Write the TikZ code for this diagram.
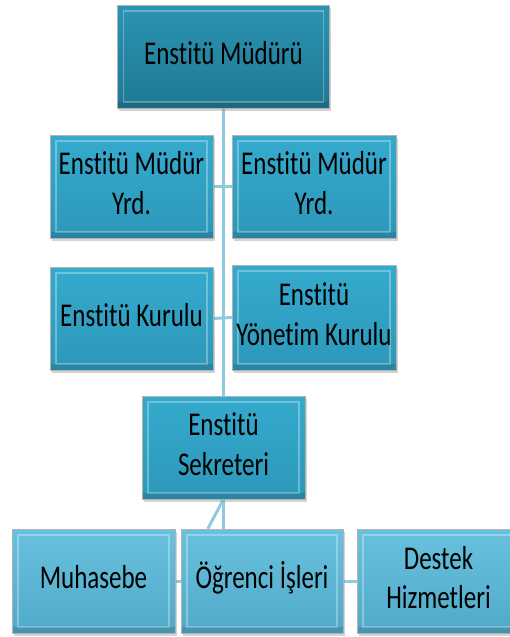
\documentclass[tikz,border=0pt]{standalone}
\usepackage{fontspec}
\setmainfont{Carlito}[Ligatures={NoCommon}]
\usepackage{graphicx}
\usetikzlibrary{shadows,backgrounds}

\definecolor{koyu}{HTML}{1F7893}
\definecolor{koyuust}{HTML}{2B94B2}
\definecolor{orta}{HTML}{2C98BA}
\definecolor{ortaust}{HTML}{35AACD}
\definecolor{acik}{HTML}{4FA9C8}
\definecolor{acikust}{HTML}{68C2DF}
\definecolor{hat}{HTML}{8ECBE0}

\newcommand{\kutuyazi}[1]{\scalebox{1}[1.33]{\begin{tabular}{@{}c@{}}#1\end{tabular}}}

\tikzset{
  kutu/.style={rectangle, draw=white!70!black, line width=0.4pt, inner sep=0pt,
    minimum height=103pt, font=\fontsize{25}{30}\selectfont,
    drop shadow={opacity=0.35, shadow xshift=1.5pt, shadow yshift=-2.5pt},
    path picture={
      \draw[white, opacity=0.3, line width=1.2pt]
        ([shift={(6pt,-6pt)}]path picture bounding box.north west) rectangle
        ([shift={(-6pt,6pt)}]path picture bounding box.south east);
      \fill[black, opacity=0.12]
        (path picture bounding box.south west) rectangle
        ([yshift=6pt]path picture bounding box.south east);}},
  kutukoyu/.style={kutu, top color=koyuust, bottom color=koyu},
  kutuorta/.style={kutu, top color=ortaust, bottom color=orta},
  kutuacik/.style={kutu, top color=acikust, bottom color=acik},
  baglanti/.style={draw=hat, line width=3pt}
}

\begin{document}
\begin{tikzpicture}[x=1pt,y=-1pt]
  \useasboundingbox (0,0) rectangle (510,637);

  \node[kutukoyu, minimum width=212pt] (mudur) at (223.5,56.5) {\kutuyazi{Enstitü Müdürü}};
  \node[kutuorta, minimum width=163pt] (yrdsol) at (131.5,186.5) {\kutuyazi{Enstitü Müdür\\Yrd.}};
  \node[kutuorta, minimum width=164pt] (yrdsag) at (314,186.5) {\kutuyazi{Enstitü Müdür\\Yrd.}};
  \node[kutuorta, minimum width=163pt] (kurul) at (131.5,318.5) {\kutuyazi{Enstitü Kurulu}};
  \node[kutuorta, minimum width=164pt, minimum height=105pt] (yonetim) at (314,317.5) {\kutuyazi{Enstitü\\Yönetim Kurulu}};
  \node[kutuorta, minimum width=163pt] (sekreter) at (223.5,447.5) {\kutuyazi{Enstitü\\Sekreteri}};
  \node[kutuacik, minimum width=163pt, minimum height=104pt] (muhasebe) at (93.5,581) {\kutuyazi{Muhasebe}};
  \node[kutuacik, minimum width=162pt, minimum height=104pt] (ogrenci) at (262,581) {\kutuyazi{Öğrenci İşleri}};
  \node[kutuacik, minimum width=163pt, minimum height=104pt] (destek) at (438.5,581) {\kutuyazi{Destek\\Hizmetleri}};

  % connectors behind the boxes
  \begin{scope}[on background layer]
    \draw[baglanti] (mudur.south) -- (sekreter.north);
    \draw[baglanti] (yrdsol.east) -- (yrdsag.west);
    \draw[baglanti] (kurul.east) -- (yonetim.west);
    \draw[baglanti] (sekreter.south) -- (sekreter.south |- ogrenci.north);
    \draw[baglanti] (sekreter.south) -- ([xshift=27pt]ogrenci.north west);
    \draw[baglanti] (muhasebe.east) -- (ogrenci.west);
    \draw[baglanti] (ogrenci.east) -- (destek.west);
  \end{scope}
\end{tikzpicture}
\end{document}
